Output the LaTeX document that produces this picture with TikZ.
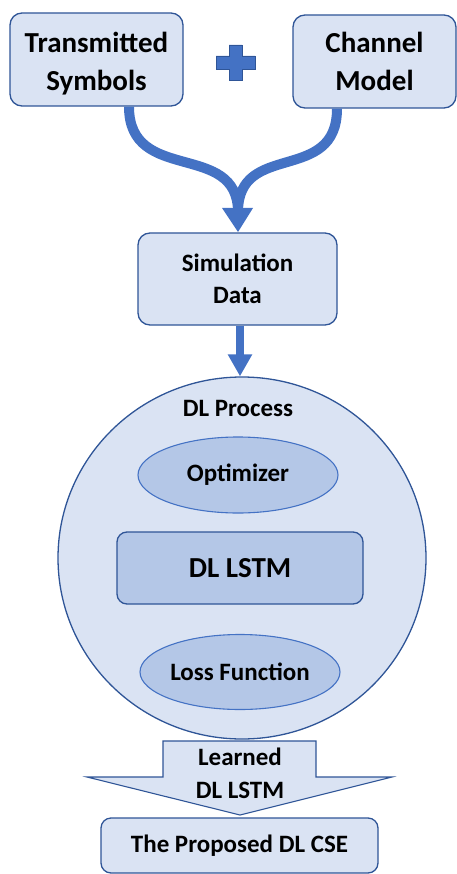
\documentclass[tikz,border=0pt]{standalone}
\usepackage{fontspec}
\setmainfont{Carlito}
\usetikzlibrary{shapes.geometric,arrows.meta}
\definecolor{boxfill}{HTML}{DAE3F3}
\definecolor{innerfill}{HTML}{B4C7E7}
\definecolor{edge}{HTML}{2F5597}
\definecolor{accent}{HTML}{4472C4}
\newcommand\twolines[3]{\raisebox{#1}[\height][\depth]{\begin{tabular}{@{}c@{}}#2\\#3\end{tabular}}}
\tikzset{
  rbox/.style={draw=edge, line width=1.3pt, fill=boxfill, rounded corners=12pt, align=center, inner sep=0pt, font=\bfseries},
  oval/.style={ellipse, draw=accent, line width=1.1pt, fill=innerfill, inner sep=0pt, font=\bfseries},
  flow/.style={draw=accent, line width=10pt},
}
\begin{document}
\begin{tikzpicture}[x=1pt,y=-1pt]
\useasboundingbox (0,0) rectangle (457,874);
% top boxes
\node[rbox, minimum width=173pt, minimum height=93pt, font=\bfseries\fontsize{29}{38}\selectfont] (ts) at (96.5,59.5) {\twolines{-4pt}{Transmitted}{Symbols}};
\node[rbox, minimum width=163pt, minimum height=93pt, font=\bfseries\fontsize{29}{38}\selectfont] (cm) at (374.5,61.5) {\twolines{-2.5pt}{Channel}{Model}};
% plus sign
\filldraw[fill=accent, draw=edge, line width=0.8pt] (229,45) -- (242,45) -- (242,56) -- (255,56) -- (255,69) -- (242,69) -- (242,80) -- (229,80) -- (229,69) -- (216,69) -- (216,56) -- (229,56) -- cycle;
% simulation data
\node[rbox, minimum width=199pt, minimum height=92pt, font=\bfseries\fontsize{25}{32}\selectfont] (sim) at (237.5,279) {\twolines{-2pt}{Simulation}{Data}};
\coordinate (merge) at (238,232);
\draw[flow] (ts.south -| 129,0) .. controls (129,185) and (238,140) .. (238,212);
\draw[flow] (cm.south -| 337,0) .. controls (337,185) and (238,140) .. (238,212);
\fill[accent] (222,208) -- (253,208) -- (merge) -- cycle;
% DL process circle
\node[ellipse, draw=edge, line width=1.3pt, fill=boxfill, minimum width=368pt, minimum height=362pt, inner sep=0pt] (proc) at (242,558) {};
\node[font=\bfseries\fontsize{25}{30}\selectfont] (proclbl) at (238,408) {DL Process};
\draw[draw=accent, line width=8pt, -{Triangle[width=23pt,length=22pt]}] (sim.south -| 240,0) -- (proc.north -| 240,0);
\node[oval, minimum width=200pt, minimum height=76pt, font=\bfseries\fontsize{25}{30}\selectfont] (opt) at (238,475) {Optimizer};
\node[rbox, fill=innerfill, minimum width=246pt, minimum height=72pt, rounded corners=10pt, font=\bfseries\fontsize{29}{34}\selectfont] (lstm) at (240,568) {DL LSTM};
\node[oval, minimum width=200pt, minimum height=75pt, font=\bfseries\fontsize{25}{30}\selectfont] (loss) at (240,672) {Loss Function};
% block arrow
\filldraw[fill=boxfill, draw=edge, line width=1.1pt] (163,741) -- (316,741) -- (316,777) -- (392,777) -- (240,815) -- (87,777) -- (163,777) -- cycle;
\node[align=center, font=\bfseries\fontsize{25}{33}\selectfont] (learned) at (240,773) {Learned\\DL LSTM};
% final box
\node[rbox, minimum width=277pt, minimum height=55pt, rounded corners=10pt, font=\bfseries\fontsize{25}{30}\selectfont] (cse) at (239.5,845.5) {The Proposed DL CSE};
\end{tikzpicture}
\end{document}
